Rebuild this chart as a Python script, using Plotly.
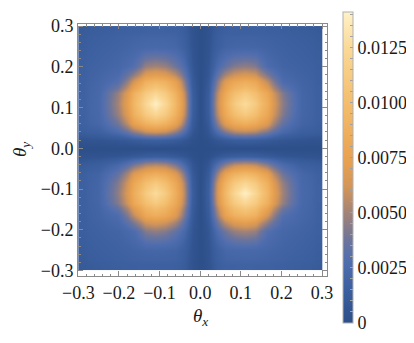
import numpy as np
import plotly.graph_objects as go

# grid of theta values (both axes), radians
theta = [-0.3, -0.25, -0.2, -0.16, -0.135, -0.11, -0.085, -0.06, -0.04, -0.02, 0.0,
         0.02, 0.04, 0.06, 0.085, 0.11, 0.135, 0.16, 0.2, 0.25, 0.3]

# intensity, in units of 1e-4; rows go from theta_y=-0.3 up to +0.3
z_rows = [
    [10.5, 12.4, 14.5, 15.5, 15.8, 15.9, 15.8, 15.5, 12.1, 4.4, 0.5, 4.8, 13.3, 17.1, 17.4, 17.5, 17.4, 17.1, 16.0, 13.7, 11.6],
    [12.4, 15.3, 17.4, 19.7, 20.9, 21.2, 20.9, 19.7, 14.7, 5.3, 0.6, 5.8, 16.2, 21.7, 23.0, 23.4, 23.0, 21.7, 19.2, 16.9, 13.7],
    [14.5, 17.4, 20.0, 27.0, 42.8, 45.7, 42.8, 34.6, 23.5, 7.2, 0.7, 7.9, 25.9, 38.2, 47.2, 50.4, 47.2, 30.0, 22.0, 19.2, 16.0],
    [15.5, 19.7, 27.0, 58.0, 81.0, 86.3, 81.0, 67.4, 40.4, 10.4, 0.9, 11.5, 44.5, 74.3, 89.3, 95.2, 89.3, 64.0, 30.0, 21.7, 17.1],
    [15.8, 20.9, 42.8, 81.0, 101.2, 111.7, 101.2, 81.0, 51.3, 12.9, 1.0, 14.2, 56.6, 89.3, 111.6, 123.2, 111.6, 89.3, 47.2, 23.0, 17.4],
    [15.9, 21.2, 45.7, 86.3, 111.7, 127.0, 111.7, 86.3, 54.4, 13.7, 1.0, 15.1, 60.0, 95.2, 123.2, 140.0, 123.2, 95.2, 50.4, 23.4, 17.5],
    [15.8, 20.9, 42.8, 81.0, 101.2, 111.7, 101.2, 81.0, 51.3, 12.9, 1.0, 14.2, 56.6, 89.3, 111.6, 123.2, 111.6, 89.3, 47.2, 23.0, 17.4],
    [15.5, 19.7, 34.6, 67.4, 81.0, 86.3, 81.0, 67.4, 40.4, 10.4, 0.9, 11.5, 44.5, 74.3, 89.3, 95.2, 89.3, 74.3, 38.2, 21.7, 17.1],
    [12.1, 14.7, 23.5, 40.4, 51.3, 54.4, 51.3, 40.4, 24.4, 7.1, 0.6, 7.8, 26.9, 44.5, 56.6, 60.0, 56.6, 44.5, 25.9, 16.2, 13.3],
    [4.4, 5.3, 7.2, 10.4, 12.9, 13.7, 12.9, 10.4, 7.1, 2.2, 0.2, 2.4, 7.8, 11.5, 14.2, 15.1, 14.2, 11.5, 7.9, 5.8, 4.8],
    [0.5, 0.6, 0.7, 0.9, 1.0, 1.0, 1.0, 0.9, 0.6, 0.2, 0.0, 0.2, 0.6, 0.9, 1.0, 1.0, 1.0, 0.9, 0.7, 0.6, 0.5],
    [4.8, 5.8, 7.9, 11.5, 14.2, 15.1, 14.2, 11.5, 7.8, 2.4, 0.2, 2.2, 7.1, 10.4, 12.9, 13.7, 12.9, 10.4, 7.2, 5.3, 4.4],
    [13.3, 16.2, 25.9, 44.5, 56.6, 60.0, 56.6, 44.5, 26.9, 7.8, 0.6, 7.1, 24.4, 40.4, 51.3, 54.4, 51.3, 40.4, 23.5, 14.7, 12.1],
    [17.1, 21.7, 38.2, 74.3, 89.3, 95.2, 89.3, 74.3, 44.5, 11.5, 0.9, 10.4, 40.4, 67.4, 81.0, 86.3, 81.0, 67.4, 34.6, 19.7, 15.5],
    [17.4, 23.0, 47.2, 89.3, 111.6, 123.2, 111.6, 89.3, 56.6, 14.2, 1.0, 12.9, 51.3, 81.0, 101.2, 111.7, 101.2, 81.0, 42.8, 20.9, 15.8],
    [17.5, 23.4, 50.4, 95.2, 123.2, 140.0, 123.2, 95.2, 60.0, 15.1, 1.0, 13.7, 54.4, 86.3, 111.7, 127.0, 111.7, 86.3, 45.7, 21.2, 15.9],
    [17.4, 23.0, 47.2, 89.3, 111.6, 123.2, 111.6, 89.3, 56.6, 14.2, 1.0, 12.9, 51.3, 81.0, 101.2, 111.7, 101.2, 81.0, 42.8, 20.9, 15.8],
    [17.1, 21.7, 30.0, 64.0, 89.3, 95.2, 89.3, 74.3, 44.5, 11.5, 0.9, 10.4, 40.4, 67.4, 81.0, 86.3, 81.0, 58.0, 27.0, 19.7, 15.5],
    [16.0, 19.2, 22.0, 30.0, 47.2, 50.4, 47.2, 38.2, 25.9, 7.9, 0.7, 7.2, 23.5, 34.6, 42.8, 45.7, 42.8, 27.0, 20.0, 17.4, 14.5],
    [13.7, 16.9, 19.2, 21.7, 23.0, 23.4, 23.0, 21.7, 16.2, 5.8, 0.6, 5.3, 14.7, 19.7, 20.9, 21.2, 20.9, 19.7, 17.4, 15.3, 12.4],
    [11.6, 13.7, 16.0, 17.1, 17.4, 17.5, 17.4, 17.1, 13.3, 4.8, 0.5, 4.4, 12.1, 15.5, 15.8, 15.9, 15.8, 15.5, 14.5, 12.4, 10.5],
]

cbar_vals = [0, 0.0025, 0.005, 0.0075, 0.01, 0.0125]
cbar_text = ["0", "0.0025", "0.0050", "0.0075", "0.0100", "0.0125"]
z_max = 0.01414

# Mathematica-like default density gradient
cscale = [
    [0.0, "rgb(44,79,137)"],
    [0.12, "rgb(62,97,162)"],
    [0.2, "rgb(80,110,175)"],
    [0.27, "rgb(110,117,155)"],
    [0.35, "rgb(160,130,120)"],
    [0.44, "rgb(212,150,88)"],
    [0.53, "rgb(233,162,80)"],
    [0.71, "rgb(243,190,110)"],
    [0.88, "rgb(250,216,150)"],
    [1.0, "rgb(255,241,200)"],
]

g = np.array(theta)
edges = np.concatenate([[g[0]], (g[1:] + g[:-1]) / 2, [g[-1]]])
z = np.array(z_rows) * 1e-4

# colorbar ticks every 0.0005, labelled only at the major ones
cb_ticks = np.round(np.arange(0, z_max, 0.0005), 4)
cb_text = [cbar_text[cbar_vals.index(v)] if v in cbar_vals else "" for v in cb_ticks.tolist()]

# the page body has an 8px margin, so the figure is shrunk by that much
OFF = 8
W, H = 414 - OFF, 343 - OFF
L, R, T, B = 78 - OFF, 327 - OFF, 24 - OFF, 276 - OFF  # plot frame in pixels
PW, PH = R - L, B - T
FONT = "Liberation Serif, Times New Roman, serif"
FRAME = "#8a8a8a"
TXT = "#1a1a1a"


def px_to_paper(px, py):
    # page pixel position -> paper coordinates
    return (px - OFF - L) / PW, (B - (py - OFF)) / PH


fig = go.Figure(
    go.Heatmap(
        x=edges, y=edges, z=z,
        zsmooth="best", zmin=0, zmax=z_max,
        colorscale=cscale,
        colorbar=dict(
            x=(343 - OFF - L) / PW, xanchor="left", xpad=0,
            y=(B - (322.7 - OFF)) / PH, yanchor="bottom", ypad=0,
            lenmode="fraction", len=310.7 / PH, thickness=10,
            outlinewidth=1, outlinecolor="#b0b0b0",
            tickmode="array", tickvals=cb_ticks, ticktext=cb_text,
            ticks="inside", ticklen=3, tickcolor="#a0a0a0",
            tickfont=dict(family=FONT, size=18, color=TXT),
        ),
        hoverinfo="skip",
    )
)

axis_common = dict(
    showline=True, mirror="allticks", linecolor=FRAME, linewidth=1,
    ticks="inside", ticklen=5, tickcolor=FRAME, tickwidth=1,
    dtick=0.1, tick0=0, tickformat=".1f",
    minor=dict(dtick=0.02, ticks="inside", ticklen=2.5, tickcolor=FRAME),
    showgrid=False, zeroline=False,
    tickfont=dict(family=FONT, size=18, color=TXT),
)

xt_x, xt_y = px_to_paper(200, 317)
# kept a little right of the reference so the rotated label's box stays inside the figure
yt_x, yt_y = px_to_paper(21, 150)
title_font = dict(family=FONT, size=19, color=TXT)

fig.update_layout(
    width=W, height=H,
    margin=dict(l=L, r=W - R, t=T, b=H - B, autoexpand=False),
    paper_bgcolor="white", plot_bgcolor="white",
    xaxis=dict(range=[-0.3008, 0.3123], **axis_common),
    yaxis=dict(range=[-0.3135, 0.305], **axis_common),
    annotations=[
        dict(text="<i>θ</i><sub><i>x</i></sub>", xref="paper", yref="paper",
             x=xt_x, y=xt_y, xanchor="center", yanchor="middle",
             showarrow=False, font=title_font),
        dict(text="<i>θ</i><sub><i>y</i></sub>", xref="paper", yref="paper",
             x=yt_x, y=yt_y, xanchor="center", yanchor="middle", textangle=-90,
             showarrow=False, font=title_font, borderpad=0),
    ],
)

fig.write_html("out.html")
